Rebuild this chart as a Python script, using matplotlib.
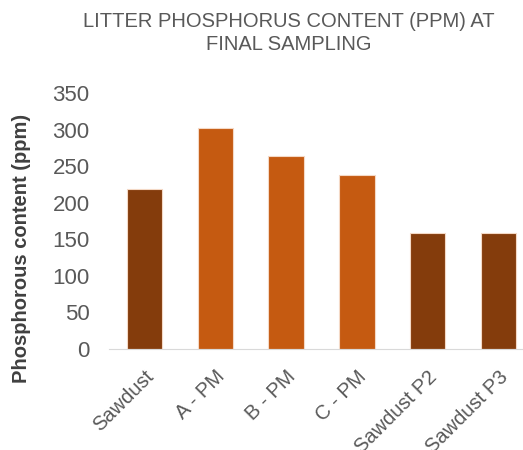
import matplotlib.pyplot as plt

categories = ['Sawdust', 'A - PM', 'B - PM', 'C - PM', 'Sawdust P2', 'Sawdust P3']
values = [219, 302, 264, 238, 158, 158]
bar_colors = ['#843C0C', '#C55A11', '#C55A11', '#C55A11', '#843C0C', '#843C0C']
yticks = [0, 50, 100, 150, 200, 250, 300, 350]

plt.rcParams['font.family'] = ['Liberation Sans', 'DejaVu Sans']

fig = plt.figure(figsize=(5.23, 4.5), dpi=100)
# plot area runs past the right edge, as in the reference crop
ax = fig.add_axes([109 / 523, 101 / 450, 425 / 523, 256 / 450])

x = range(len(categories))
ax.bar(x, values, width=0.5, color=bar_colors, edgecolor='#F4D9C6', linewidth=0.8)

ax.set_xlim(-0.5, len(categories) - 0.5)
ax.set_ylim(0, 350)
ax.set_yticks(yticks)
ax.set_yticklabels([str(t) for t in yticks], fontsize=16, color='#595959')
ax.set_xticks(list(x))
ax.set_xticklabels(categories, fontsize=14.5, color='#595959',
                   rotation=45, ha='right', rotation_mode='anchor')

for side in ['top', 'right', 'left']:
    ax.spines[side].set_visible(False)
ax.spines['bottom'].set_color('#D9D9D9')
ax.tick_params(axis='both', length=0)
ax.tick_params(axis='y', pad=14)
ax.tick_params(axis='x', pad=13)

fig.text(22 / 523, 1 - 248 / 450, 'Phosphorous content (ppm)', rotation=90,
         ha='center', va='center', fontsize=14.5, fontweight='bold',
         color='#404040')

fig.text(0.552, 1 - 12 / 450, 'LITTER PHOSPHORUS CONTENT (PPM) AT\nFINAL SAMPLING',
         ha='center', va='top', fontsize=14.5, color='#595959',
         linespacing=1.25)

fig.savefig('out.png', dpi=100)
